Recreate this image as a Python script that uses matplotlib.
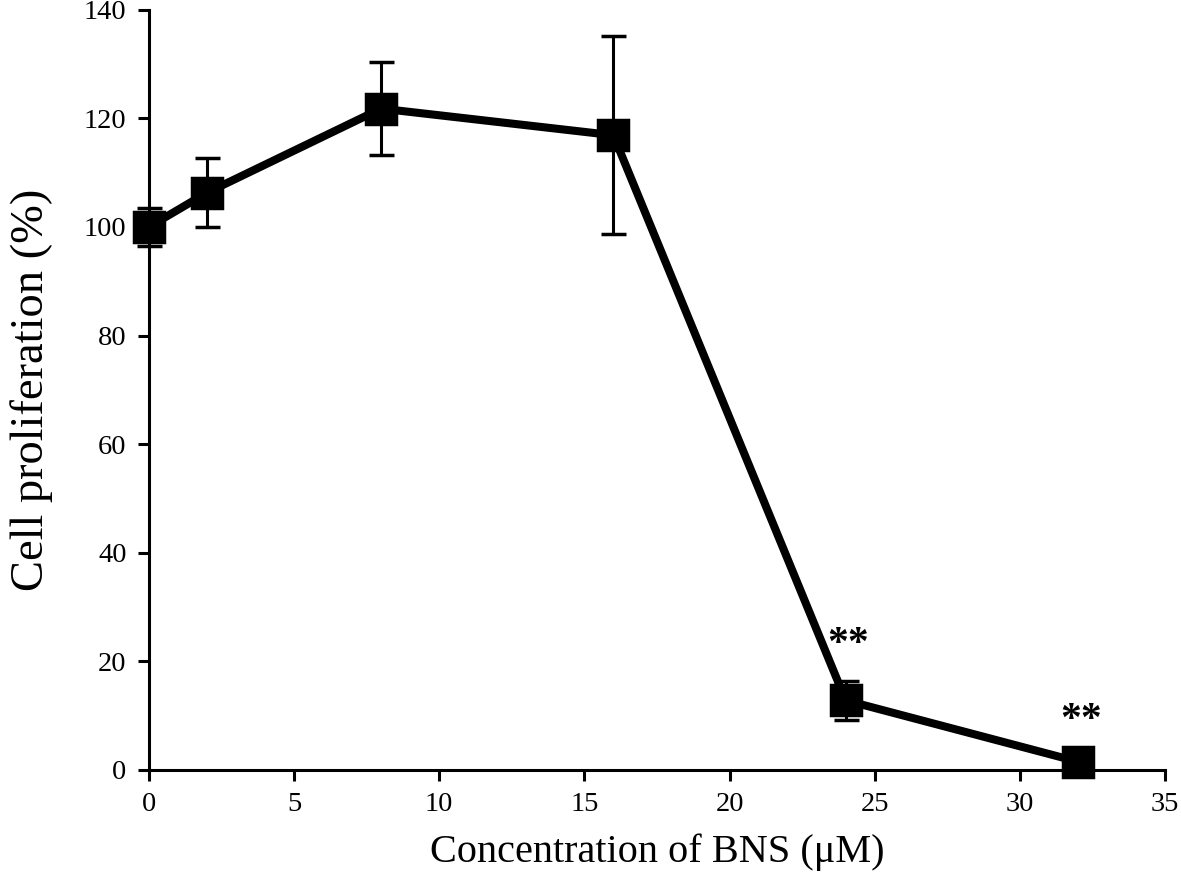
import matplotlib
matplotlib.use("Agg")
import matplotlib.pyplot as plt

# concentration of BNS (uM) and proliferation (%)
conc = [0, 2, 8, 16, 24, 32]
prolif = [100.0, 106.3, 121.8, 116.9, 12.8, 1.5]
err = [3.5, 6.4, 8.5, 18.2, 3.6, 0.8]
stars = ["", "", "", "", "**", "**"]

plt.rcParams['font.family'] = ['Liberation Serif', 'DejaVu Serif']

fig = plt.figure(figsize=(11.81, 8.92), dpi=100)
ax = fig.add_axes([0.126, 0.137, 0.8605, 0.852])

ax.errorbar(conc, prolif, yerr=err, color='black', lw=5.8, marker='s',
            markersize=22, markeredgewidth=2.5, markerfacecolor='black',
            ecolor='black', elinewidth=2.2, capsize=9, capthick=2.8,
            zorder=3, clip_on=False)

# significance marks above the error bars
for x, y, e, s in zip(conc, prolif, err, stars):
    if s:
        ax.annotate(s, (x, y + e), xytext=(2, 26), textcoords='offset points',
                    ha='center', va='center', fontsize=30, fontweight='bold')

ax.set_xlim(0, 35)
ax.set_ylim(0, 140)
ax.set_xticks(range(0, 36, 5))
ax.set_yticks(range(0, 141, 20))
ax.spines['top'].set_visible(False)
ax.spines['right'].set_visible(False)
for sp in ['left', 'bottom']:
    ax.spines[sp].set_linewidth(2.2)
ax.tick_params(direction='out', width=2.2, length=8, labelsize=20.5, pad=8)

ax.set_xlabel('Concentration of BNS (μM)', fontsize=29, labelpad=12)
ax.set_ylabel('Cell proliferation (%)', fontsize=33.5, labelpad=22)

fig.savefig('out.png', dpi=100)
